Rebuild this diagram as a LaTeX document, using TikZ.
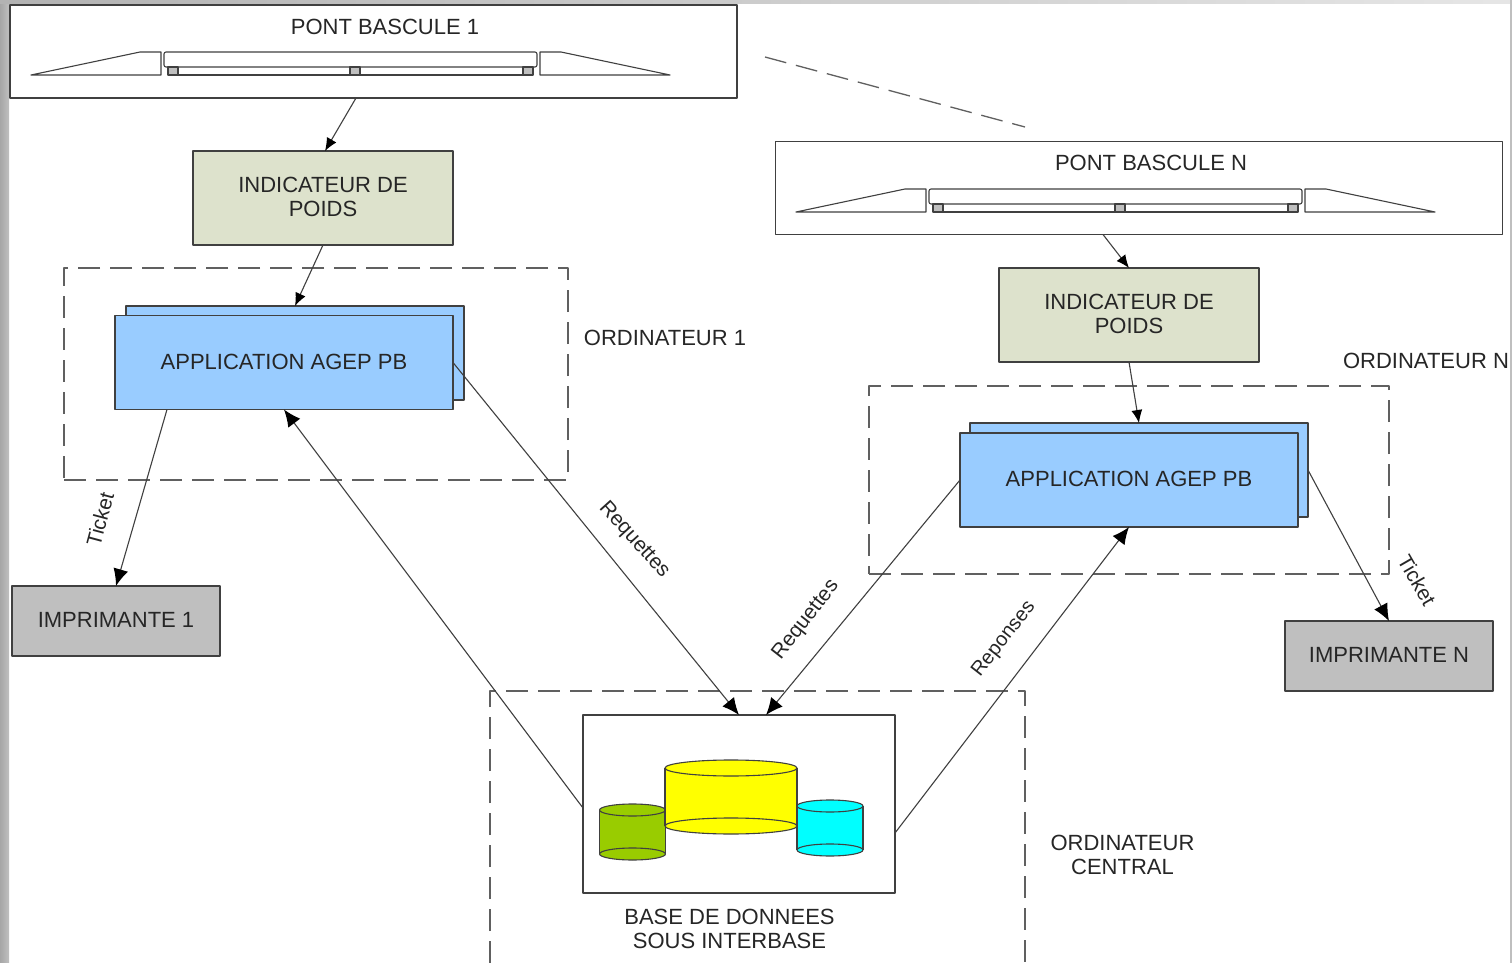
\documentclass[tikz,border=0pt]{standalone}
\usepackage{fontspec}
\setmainfont{Liberation Sans}
\usetikzlibrary{arrows.meta,positioning}
\definecolor{linegray}{HTML}{404040}
\definecolor{dashgray}{HTML}{606060}
\definecolor{indfill}{HTML}{DDE2CC}
\definecolor{appfill}{HTML}{99CCFF}
\definecolor{impfill}{HTML}{BFBFBF}
\definecolor{vert}{HTML}{99CC00}
\definecolor{jaune}{HTML}{FFFF00}
\definecolor{bleuclair}{HTML}{00FFFF}

\begin{document}
\begin{tikzpicture}[
    x=0.5pt,
    y=-0.5pt,
    line width=0.55pt,
    draw=linegray,
    line join=round,
    font=\fontsize{11}{12}\selectfont,
    text=black!85,
    smalltip/.style={-{Latex[length=6.5pt,width=5.5pt,black]}},
    bigtip/.style={-{Latex[length=8.5pt,width=7.5pt,black]}},
    every node/.style={align=center, outer sep=0, inner sep=0},
    pontbox/.style={draw, minimum width=363.5pt, minimum height=46.5pt},
    indbox/.style={draw, fill=indfill, minimum width=130pt, minimum height=47pt},
    appbox/.style={draw, fill=appfill, minimum width=169pt, minimum height=47pt},
    impbox/.style={draw, fill=impfill, minimum width=104pt, minimum height=35pt},
    zone/.style={draw=dashgray, dash pattern=on 11pt off 5pt, line width=0.65pt},
    sidelabel/.style={font=\fontsize{10.4}{12}\selectfont}
    ]

    % window edges
    \useasboundingbox (0,0) rectangle (1512,963);
    \fill[white] (0,0) rectangle (1512,963);
    \fill[left color=black!35, right color=black!25] (0,0) rectangle (9,963);
    \fill[left color=black!30, right color=black!10] (0,0) rectangle (1512,4);
    \fill[black!25] (1510,0) rectangle (1512,963);

    % zones
    \node (ordi1) [zone, minimum width=252pt, minimum height=106pt] at (316,374) {};
    \node (ordiN) [zone, minimum width=260pt, minimum height=94pt] at (1129,480) {};
    \draw[zone] (490,963) -- (490,691) -- (1025,691) -- (1025,963);
    \coordinate (dashA) at (765,57);
    \coordinate (dashB) at (1025,127);
    \draw[zone] (dashA) -- (dashB);

    % ponts
    \node (pont1) [pontbox] at (373.5,51.5) {};
    \node (pontN) [pontbox] at (1139,188) {};
    \node (titre1) at (385,27) {PONT BASCULE 1};
    \node (titreN) at (1151,163) {PONT BASCULE N};
    \foreach \ox/\oy in {0/0, 765/137} {
      \begin{scope}[shift={(\ox,\oy)}]
        \draw (31,75) -- (140,52) -- (161,52) -- (161,75) -- cycle;
        \draw (670,75) -- (561,52) -- (540,52) -- (540,75) -- cycle;
        \draw[rounded corners=1pt] (164,52) rectangle (537,67);
        \draw (178,75) -- (523,75);
        \foreach \fx in {168,350,523}
          \draw[fill=impfill] (\fx,67) rectangle ++(10,8);
      \end{scope}
    }

    \node (ind1) [indbox] at (323,198) {\raisebox{1pt}{INDICATEUR DE}\\\raisebox{1pt}{POIDS}};
    \node (indN) [indbox] at (1129,315) {\raisebox{1pt}{INDICATEUR DE}\\\raisebox{1pt}{POIDS}};

    \node (back1) [appbox] at (295,353) {};
    \node (app1) [appbox] at (284,362.5) {\raisebox{1pt}{APPLICATION AGEP PB}};
    \node (backN) [appbox] at (1139,470) {};
    \node (appN) [appbox] at (1129,480) {\raisebox{1pt}{APPLICATION AGEP PB}};

    \node (imp1) [impbox] at (116,621) {\raisebox{1pt}{IMPRIMANTE 1}};
    \node (impN) [impbox] at (1389,656) {\raisebox{1pt}{IMPRIMANTE N}};

    % base de donnees
    \node (base) [draw, minimum width=156pt, minimum height=89pt] at (739,804) {};
    \foreach \cx/\ctop/\cbot/\crx/\cry/\ccol in {
        632.5/810/854/33/6/vert, 731/768/826/66/8/jaune, 830/806/850/33/6/bleuclair} {
      \fill[\ccol] (\cx-\crx,\ctop) rectangle (\cx+\crx,\cbot);
      \draw (\cx-\crx,\ctop) -- (\cx-\crx,\cbot);
      \draw (\cx+\crx,\ctop) -- (\cx+\crx,\cbot);
      \draw[fill=\ccol] (\cx,\ctop) ellipse[x radius=\crx, y radius=\cry];
      \draw[fill=\ccol] (\cx,\cbot) ellipse[x radius=\crx, y radius=\cry];
    }

    % labels
    \node (lab1) at (665,338) {ORDINATEUR 1};
    \node (labN) at (1426,361) {ORDINATEUR N};
    \node (labC) at (1122.5,855) {ORDINATEUR\\CENTRAL};
    \node (labB) at (729.5,929) {BASE DE DONNEES\\SOUS INTERBASE};

    % connectors
    \draw[smalltip] ([xshift=-8.75pt]pont1.south) -- ([xshift=1pt]ind1.north);
    \draw[smalltip] (ind1.south) -- (back1.north);
    \draw[smalltip] ([xshift=-18pt]pontN.south) -- (indN.north);
    \draw[smalltip] (indN.south) -- (backN.north);

    \draw[bigtip] ([xshift=-58.5pt]app1.south) -- (imp1.north);
    \draw[bigtip] (app1.east) -- (base.north);
    \draw[bigtip] ([yshift=-2pt]base.west) -- (app1.south);
    \draw[bigtip] (appN.west) -- ([xshift=13.5pt]base.north);
    \draw[bigtip] ([yshift=-14.5pt]base.east) -- (appN.south);
    \draw[bigtip] (backN.east) -- (impN.north);

    \node (ticket1) [sidelabel, rotate=75] at (100,519) {Ticket};
    \node (requettes1) [sidelabel, rotate=-48] at (634,540) {Requettes};
    \node (requettesN) [sidelabel, rotate=52] at (806,620) {Requettes};
    \node (reponses) [sidelabel, rotate=52, font=\fontsize{10}{12}\selectfont] at (1004,639) {Reponses};
    \node (ticketN) [sidelabel, rotate=-60] at (1417,580) {Ticket};
\end{tikzpicture}
\end{document}
